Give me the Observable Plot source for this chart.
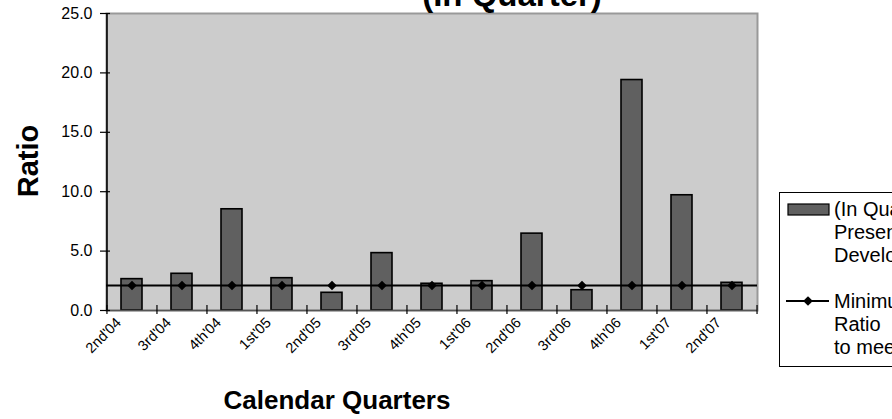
<!DOCTYPE html>
<html><head><meta charset="utf-8">
<script src="https://cdn.jsdelivr.net/npm/d3@7"></script>
<script src="https://cdn.jsdelivr.net/npm/@observablehq/plot@0.6"></script>
<style>
body{margin:0;background:#fff;}
#chart{width:892px;height:419px;overflow:hidden;position:relative;}
</style>
</head><body><div id="chart"></div>
<script>
const quarters = ["2nd'04","3rd'04","4th'04","1st'05","2nd'05","3rd'05","4th'05","1st'06","2nd'06","3rd'06","4th'06","1st'07","2nd'07"];
const ratios = [2.64, 3.09, 8.52, 2.72, 1.49, 4.83, 2.25, 2.47, 6.47, 1.71, 19.4, 9.70, 2.33];
const minimumRatio = [2.1, 2.1, 2.1, 2.1, 2.1, 2.1, 2.1, 2.1, 2.1, 2.1, 2.1, 2.1, 2.1];
const yTicks = [0, 5, 10, 15, 20, 25];
const titleText = "(In Quarter)";
const xTitle = "Calendar Quarters";
const yTitle = "Ratio";
const legendBar = ["(In Quarter)", "Present", "Development"];
const legendLine = ["Minimum", "Ratio", "to meet"];

const W = 892, H = 419, mL = 106, mR = 135, mT = 13, mB = 109;
const plotW = W - mL - mR, plotH = H - mT - mB;
const step = plotW / quarters.length;
const data = quarters.map((q, i) => ({q, ratio: ratios[i], min: minimumRatio[i]}));
const font = "'Liberation Sans', Arial, sans-serif";

const chart = Plot.plot({
  width: W, height: H,
  marginLeft: mL, marginRight: mR, marginTop: mT, marginBottom: mB,
  style: {fontFamily: font, background: "white", color: "black"},
  x: {type: "band", domain: quarters, paddingInner: 0.575, paddingOuter: 0.2875, axis: null},
  y: {domain: [0, 25], axis: null},
  marks: [
    Plot.frame({fill: "#cccccc", stroke: "#999999", strokeWidth: 2}),
    Plot.barY(data, {x: "q", y: "ratio", fill: "#606060", stroke: "black", strokeWidth: 1.6}),
    Plot.ruleY([minimumRatio[0]], {stroke: "black", strokeWidth: 2}),
    Plot.dot(data, {x: "q", y: "min", symbol: "diamond2", r: 4.3, fill: "black", stroke: "none"}),
    Plot.ruleY([0], {stroke: "#555555", strokeWidth: 1.6}),
    Plot.ruleX([quarters[0]], {x: d => d, dx: -step / 2, stroke: "black", strokeWidth: 1.6}),
    // y ticks crossing the axis
    Plot.ruleY(yTicks, {y: d => d, insetLeft: -6, insetRight: plotW - 4, stroke: "black", strokeWidth: 1.2}),
    // x ticks at category boundaries
    Plot.ruleX(quarters, {x: d => d, dx: -step / 2, insetTop: plotH - 5, insetBottom: -4, stroke: "black", strokeWidth: 1.2}),
    Plot.ruleX([quarters[quarters.length - 1]], {x: d => d, dx: step / 2, insetTop: plotH - 5, insetBottom: -4, stroke: "black", strokeWidth: 1.2}),
    // y tick labels
    Plot.text(yTicks, {y: d => d, text: d => d.toFixed(1), frameAnchor: "left", dx: -14, textAnchor: "end", fontSize: 16, fill: "black"}),
    // x tick labels
    Plot.text(data, {x: "q", text: "q", frameAnchor: "bottom", rotate: -45, textAnchor: "end", dx: -10, dy: 13, fontSize: 14.5, fill: "black"}),
    // axis titles
    Plot.text([yTitle], {text: d => d, frameAnchor: "left", textAnchor: "middle", dx: -78, dy: -1, rotate: -90, fontSize: 29, fontWeight: "bold", fill: "black"}),
    Plot.text([xTitle], {text: d => d, frameAnchor: "bottom", textAnchor: "middle", dx: -95, dy: 98, fontSize: 26, fontWeight: "bold", fill: "black", lineAnchor: "bottom"}),
    Plot.text([titleText], {text: d => d, frameAnchor: "top", textAnchor: "middle", dx: 80, dy: -8, fontSize: 33, fontWeight: "bold", fill: "black", lineAnchor: "bottom"})
  ]
});
chart.style.overflow = "hidden";
document.getElementById("chart").appendChild(chart);

// legend
const svg = d3.select(chart);
const lg = svg.append("g").attr("font-family", font).attr("font-size", 20).attr("fill", "black").attr("text-anchor", "start");
lg.append("rect").attr("x", 779.5).attr("y", 192.5).attr("width", 200).attr("height", 174).attr("fill", "white").attr("stroke", "black").attr("stroke-width", 1);
lg.append("rect").attr("x", 788).attr("y", 204).attr("width", 41).attr("height", 11).attr("fill", "#606060").attr("stroke", "black").attr("stroke-width", 1.2);
legendBar.forEach((t, i) => lg.append("text").attr("x", 834).attr("y", 216 + i * 23).attr("text-anchor", "start").text(t));
lg.append("line").attr("x1", 786).attr("x2", 829).attr("y1", 301).attr("y2", 301).attr("stroke", "black").attr("stroke-width", 2);
lg.append("path").attr("d", d3.symbol(d3.symbolDiamond2, 60)()).attr("transform", "translate(808,301)").attr("fill", "black");
legendLine.forEach((t, i) => lg.append("text").attr("x", 834).attr("y", 308 + i * 23).attr("text-anchor", "start").text(t));
</script>
</body></html>
